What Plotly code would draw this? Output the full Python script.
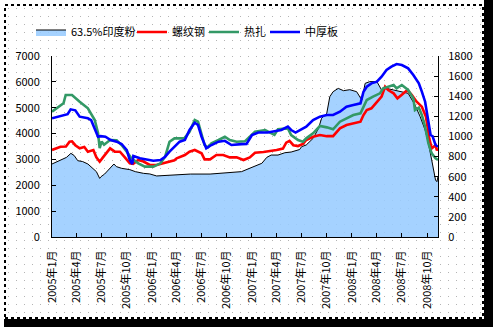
import base64
import plotly.graph_objects as go

# ---------------- data ----------------
ore_dates = ["2005-01-01","2005-02-01","2005-02-23","2005-03-11","2005-03-23","2005-04-05","2005-04-23",
             "2005-05-12","2005-05-30","2005-06-12","2005-06-24","2005-06-29","2005-07-12","2005-07-30",
             "2005-08-15","2005-08-24","2005-09-12","2005-10-12","2005-11-01","2005-12-01","2005-12-24",
             "2006-01-18","2006-02-12","2006-03-06","2006-04-01","2006-05-21","2006-08-01","2006-10-01",
             "2006-11-24","2007-01-01","2007-02-06","2007-02-24","2007-03-12","2007-04-06","2007-05-01",
             "2007-05-24","2007-06-18","2007-06-24","2007-07-01","2007-07-18","2007-08-12","2007-09-01",
             "2007-09-12","2007-10-01","2007-10-12","2007-10-24","2007-11-12","2007-12-01","2007-12-24",
             "2008-01-18","2008-02-06","2008-02-18","2008-03-06","2008-04-01","2008-04-18","2008-05-06",
             "2008-06-01","2008-07-01","2008-07-24","2008-08-18","2008-09-06","2008-09-24","2008-10-06",
             "2008-10-18","2008-11-01","2008-11-06","2008-11-10"]
ore_values = [726,766,792,832,810,759,750,
              726,683,650,583,600,626,683,
              726,700,683,670,650,633,627,
              607,612,617,617,626,626,640,
              650,693,733,792,815,815,838,
              845,865,870,898,915,981,1081,
              1180,1230,1395,1445,1478,1455,1465,
              1445,1362,1528,1545,1545,1462,1478,
              1462,1445,1429,1313,1196,1064,931,
              766,567,550,600]

rebar_dates = ["2005-01-01","2005-02-01","2005-02-21","2005-03-06","2005-03-15","2005-03-27","2005-04-12",
               "2005-04-29","2005-05-12","2005-06-01","2005-06-12","2005-06-24","2005-07-06","2005-07-18",
               "2005-08-01","2005-08-18","2005-09-06","2005-09-24","2005-10-12","2005-10-24","2005-11-12",
               "2005-12-01","2005-12-24","2006-01-18","2006-02-12","2006-03-06","2006-03-24","2006-04-01",
               "2006-04-12","2006-05-01","2006-05-18","2006-06-06","2006-07-01","2006-07-12","2006-08-01",
               "2006-08-24","2006-09-18","2006-10-12","2006-11-06","2006-12-01","2006-12-24","2007-01-12",
               "2007-02-12","2007-03-06","2007-04-01","2007-04-24","2007-05-06","2007-05-18","2007-06-01",
               "2007-06-18","2007-07-06","2007-07-18","2007-08-12","2007-09-06","2007-10-01","2007-10-24",
               "2007-11-18","2007-12-12","2008-01-06","2008-02-01","2008-02-12","2008-02-24","2008-03-12",
               "2008-04-01","2008-04-18","2008-05-01","2008-05-12","2008-06-01","2008-06-15","2008-07-01",
               "2008-07-21","2008-08-06","2008-08-24","2008-09-12","2008-09-27","2008-10-09","2008-10-18",
               "2008-11-01","2008-11-06","2008-11-10"]
rebar_values = [3364,3492,3500,3686,3700,3550,3428,
                3480,3299,3360,3080,2913,3080,3235,
                3428,3300,3299,3080,2850,2830,2978,
                2920,2784,2784,2850,2913,2970,3043,
                3080,3171,3299,3364,3235,3004,3004,
                3171,3171,3080,3080,2978,3080,3260,
                3290,3320,3364,3420,3647,3720,3550,
                3518,3596,3751,3878,3944,3900,3900,
                4203,4331,4396,4460,4718,4911,4976,
                5232,5427,5814,5685,5556,5362,5500,
                5685,5500,5232,5040,4653,3815,3428,
                3550,3350,3430]

hot_dates = ["2005-01-01","2005-02-12","2005-02-20","2005-03-15","2005-04-12","2005-05-12","2005-06-06",
             "2005-06-18","2005-06-24","2005-07-01","2005-07-10","2005-08-01","2005-08-25","2005-09-12",
             "2005-10-01","2005-10-18","2005-11-12","2005-12-06","2006-01-06","2006-02-01","2006-02-18",
             "2006-03-06","2006-03-24","2006-04-29","2006-05-18","2006-06-06","2006-06-18","2006-07-01",
             "2006-07-12","2006-07-24","2006-08-06","2006-09-01","2006-09-24","2006-10-12","2006-11-06",
             "2006-12-06","2006-12-24","2007-01-12","2007-02-18","2007-03-12","2007-03-24","2007-04-06",
             "2007-05-12","2007-05-24","2007-06-18","2007-07-06","2007-07-18","2007-08-12","2007-09-06",
             "2007-10-01","2007-10-24","2007-11-18","2007-12-12","2008-01-06","2008-02-01","2008-02-12",
             "2008-02-24","2008-03-18","2008-04-12","2008-04-24","2008-05-12","2008-06-01","2008-06-12",
             "2008-07-01","2008-07-24","2008-08-12","2008-08-18","2008-09-01","2008-09-12","2008-09-24",
             "2008-10-06","2008-10-18","2008-11-01","2008-11-10"]
hot_values = [4845,5170,5490,5491,5232,4976,4524,
              4021,3441,3686,3570,3751,3738,3557,
              3299,3043,2850,2720,2720,2850,3105,
              3686,3815,3815,4072,4524,4460,4008,
              3557,3467,3621,3751,3878,3751,3686,
              3700,3878,4072,4138,4008,3950,4164,
              4200,3944,3751,3686,3815,4008,4292,
              4240,4164,4460,4589,4718,4782,5040,
              5298,5427,5555,5750,5814,5878,5750,
              5878,5685,5362,4911,5000,4718,4266,
              3621,3235,3043,2978]

plate_dates = ["2005-01-01","2005-02-12","2005-02-27","2005-03-10","2005-03-27","2005-04-12","2005-05-12",
               "2005-05-24","2005-06-06","2005-06-18","2005-06-27","2005-07-15","2005-08-03","2005-08-25",
               "2005-09-12","2005-10-01","2005-10-12","2005-10-21","2005-10-25","2005-11-18","2005-12-12",
               "2006-01-06","2006-02-01","2006-02-18","2006-03-06","2006-03-27","2006-04-12","2006-05-01",
               "2006-05-18","2006-06-06","2006-06-18","2006-07-01","2006-07-18","2006-08-06","2006-09-01",
               "2006-09-24","2006-10-18","2006-11-24","2006-12-12","2007-01-01","2007-01-24","2007-02-27",
               "2007-03-24","2007-04-18","2007-05-12","2007-05-24","2007-06-09","2007-07-03","2007-07-18",
               "2007-08-12","2007-09-06","2007-10-01","2007-10-24","2007-11-18","2007-12-12","2008-01-06",
               "2008-02-01","2008-02-12","2008-02-24","2008-03-12","2008-04-01","2008-04-18","2008-05-06",
               "2008-05-24","2008-06-12","2008-07-01","2008-07-24","2008-08-12","2008-09-01","2008-09-12",
               "2008-09-24","2008-10-06","2008-10-14","2008-10-21","2008-11-01","2008-11-10"]
plate_values = [4589,4718,4750,4937,4900,4653,4589,
                4520,4203,3878,3900,3878,3751,3686,
                3596,3364,2978,2823,3132,3043,3000,
                2952,2978,3105,3299,3520,3686,3750,
                4138,4421,4330,3878,3428,3557,3686,
                3720,3557,3590,3600,3944,4040,4040,
                4080,4138,4266,4138,4040,4160,4266,
                4524,4653,4718,4718,4846,5040,5105,
                5170,5620,5814,5943,6007,6200,6458,
                6587,6690,6650,6523,6264,5943,5620,
                5232,4460,3944,3900,3557,3490]

tick_dates = ["2005-01-01","2005-04-01","2005-07-01","2005-10-01",
              "2006-01-01","2006-04-01","2006-07-01","2006-10-01",
              "2007-01-01","2007-04-01","2007-07-01","2007-10-01",
              "2008-01-01","2008-04-01","2008-07-01","2008-10-01"]
tick_labels = ["2005年1月","2005年4月","2005年7月","2005年10月",
               "2006年1月","2006年4月","2006年7月","2006年10月",
               "2007年1月","2007年4月","2007年7月","2007年10月",
               "2008年1月","2008年4月","2008年7月","2008年10月"]

names = ["63.5%印度粉", "螺纹钢", "热扎", "中厚板"]

# ---------------- layout geometry (pixels) ----------------
W, H = 493, 327
L, R, T, B = 52, 55, 56, 90
PW, PH = W - L - R, H - T - B


def px(x):
    return (x - L) / PW


def py(y):
    return (H - B - y) / PH


FONT = "Noto Sans CJK SC, DejaVu Sans, sans-serif"

fig = go.Figure()
fig.add_trace(go.Scatter(x=ore_dates, y=ore_values, name=names[0], yaxis="y", legend="legend",
                         mode="lines", line=dict(color="black", width=1),
                         fill="tozeroy", fillcolor="rgba(153,204,255,0.88)"))
fig.add_trace(go.Scatter(x=rebar_dates, y=rebar_values, name=names[1], yaxis="y2", legend="legend2",
                         mode="lines", line=dict(color="#FF0000", width=2.6)))
fig.add_trace(go.Scatter(x=hot_dates, y=hot_values, name=names[2], yaxis="y2", legend="legend3",
                         mode="lines", line=dict(color="#339966", width=2.6)))
fig.add_trace(go.Scatter(x=plate_dates, y=plate_values, name=names[3], yaxis="y2", legend="legend4",
                         mode="lines", line=dict(color="#0000FF", width=2.6)))

# dotted background pattern as an inline svg image
svg = ('<svg xmlns="http://www.w3.org/2000/svg" width="478" height="313">'
       '<defs><pattern id="p" width="8" height="8" patternUnits="userSpaceOnUse">'
       '<rect x="3" y="3" width="1" height="1" fill="#b4b4b4"/></pattern></defs>'
       '<rect width="100%" height="100%" fill="url(#p)"/></svg>')
uri = "data:image/svg+xml;base64," + base64.b64encode(svg.encode()).decode()

axis_common = dict(showline=True, linecolor="black", linewidth=1, ticks="inside",
                   ticklen=4, tickcolor="black", showgrid=False, zeroline=False,
                   tickfont=dict(family=FONT, size=11, color="black"))


def leg(xpix):
    return dict(orientation="h", x=px(xpix), y=py(32), xanchor="left", yanchor="middle",
                font=dict(family=FONT, size=11, color="black"), bgcolor="rgba(0,0,0,0)",
                itemwidth=30)


fig.update_layout(
    width=W, height=H, autosize=False,
    margin=dict(l=L, r=R, t=T, b=B, pad=0),
    paper_bgcolor="white", plot_bgcolor="rgba(0,0,0,0)",
    font=dict(family=FONT, size=11, color="black"),
    showlegend=True,
    legend=leg(31), legend2=leg(132), legend3=leg(204), legend4=leg(265),
    xaxis=dict(type="date", range=["2005-01-01", "2008-11-10"], tickvals=tick_dates,
               ticktext=tick_labels, tickangle=-90, ticklabelstandoff=8, **axis_common),
    yaxis=dict(side="right", range=[0, 1800], dtick=200, ticklabelstandoff=7, **axis_common),
    yaxis2=dict(side="left", overlaying="y", range=[0, 7000], dtick=1000, ticklabelstandoff=9,
                **axis_common),
    images=[dict(source=uri, xref="paper", yref="paper", x=px(5), y=py(5),
                 sizex=478 / PW, sizey=313 / PH, xanchor="left", yanchor="top",
                 sizing="stretch", layer="below")],
    shapes=[
        dict(type="rect", xref="paper", yref="paper", x0=px(5), x1=px(483), y0=py(318), y1=py(5),
             line=dict(color="black", width=2, dash="dot"), fillcolor="rgba(0,0,0,0)", layer="above"),
        dict(type="rect", xref="paper", yref="paper", x0=px(484), x1=px(494), y0=py(328), y1=py(0),
             line=dict(width=0), fillcolor="black", layer="above"),
        dict(type="rect", xref="paper", yref="paper", x0=px(4), x1=px(494), y0=py(328), y1=py(319),
             line=dict(width=0), fillcolor="black", layer="above"),
    ],
)

fig.write_html("out.html")
